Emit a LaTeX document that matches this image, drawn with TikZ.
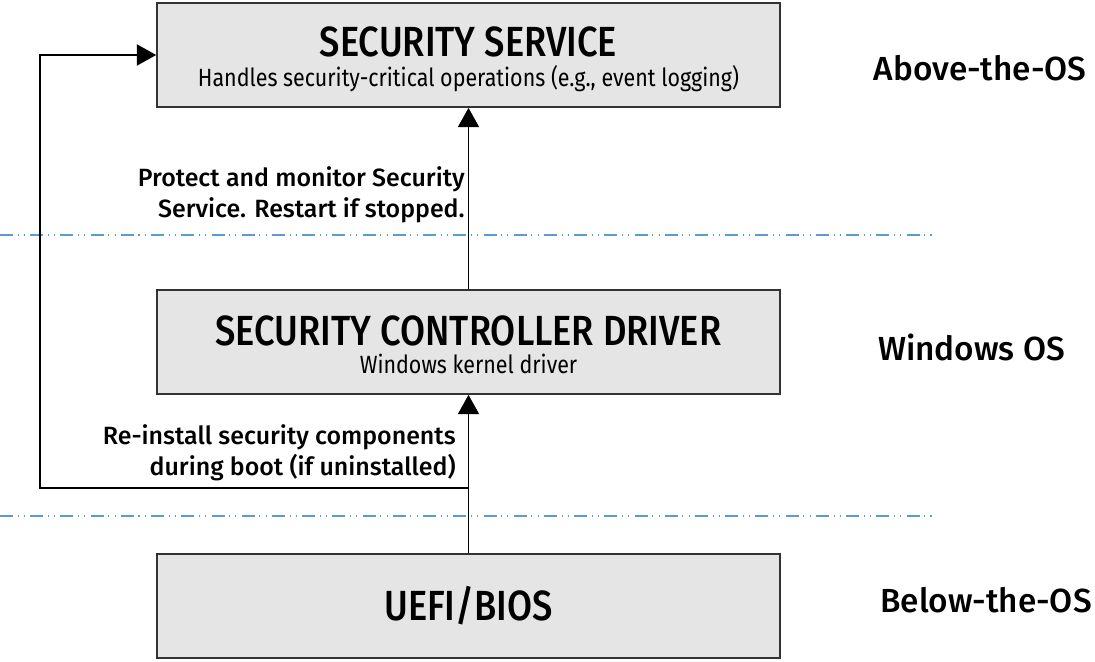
\documentclass[tikz,border=0pt]{standalone}
\usepackage{fontspec}
\setmainfont{Fira Sans}[BoldFont={Fira Sans Medium}]
\newfontfamily\boxfont{Fira Sans}[FakeStretch=0.86, BoldFont={Fira Sans Medium}]
\usetikzlibrary{arrows.meta, positioning}
\definecolor{osline}{HTML}{5B9BD5}
\definecolor{boxfill}{HTML}{E5E5E5}

\begin{document}
\begin{tikzpicture}[x=0.02cm, y=-0.02cm,
        layer/.style={draw=black!80, line width=1pt, fill=boxfill,
            minimum width=12.46cm, minimum height=2.08cm, align=center,
            font=\boxfont},
        flow/.style={-{Triangle[width=12pt, length=11pt]}, line width=1pt},
        boundary/.style={osline, line width=1pt,
            dash pattern=on 7.4pt off 2.6pt on 0.6pt off 3pt on 0.6pt off 3pt},
        note/.style={anchor=east, align=right, inner sep=0pt,
            font=\bfseries\fontsize{14.2}{17.5}\selectfont},
        tier/.style={font=\bfseries\fontsize{19}{22}\selectfont}]
        \useasboundingbox (0, 0) rectangle (1095, 662);
        \node[layer] (service) at (468.5, 55)
            {\rule{0pt}{22pt}{\bfseries\fontsize{24}{27}\selectfont SECURITY SERVICE}\\[4pt]
             {\fontsize{14.2}{16}\selectfont Handles security-critical operations (e.g., event logging)}};
        \node[layer] (driver) at (468.5, 342)
            {\rule{0pt}{20pt}{\bfseries\fontsize{24}{27}\selectfont SECURITY CONTROLLER DRIVER}\\[4pt]
             {\fontsize{14.2}{16}\selectfont Windows kernel driver}};
        \node[layer] (uefi) at (468.5, 606)
            {\bfseries\fontsize{24}{27}\selectfont UEFI/BIOS};
        \draw[boundary] (0, 235) -- (932, 235);
        \draw[boundary] (0, 516) -- (932, 516);
        \coordinate (tap) at (468.5, 488);
        \draw[flow] (uefi.north) -- (driver.south);
        \draw[flow] (driver.north) -- (service.south);
        \draw[flow] (tap) -- (40, 488) |- (service.west);
        \node[note] (protect) at (465, 195)
            {Protect and monitor Security\\Service. Restart if stopped.};
        \node[note] (reinstall) at (456, 453)
            {Re-install security components\\during boot (if uninstalled)};
        \node[tier] (above) at (980, 68) {Above-the-OS};
        \node[tier] (windows) at (971.5, 347) {Windows OS};
        \node[tier] (below) at (986, 600) {Below-the-OS};
    \end{tikzpicture}
\end{document}
